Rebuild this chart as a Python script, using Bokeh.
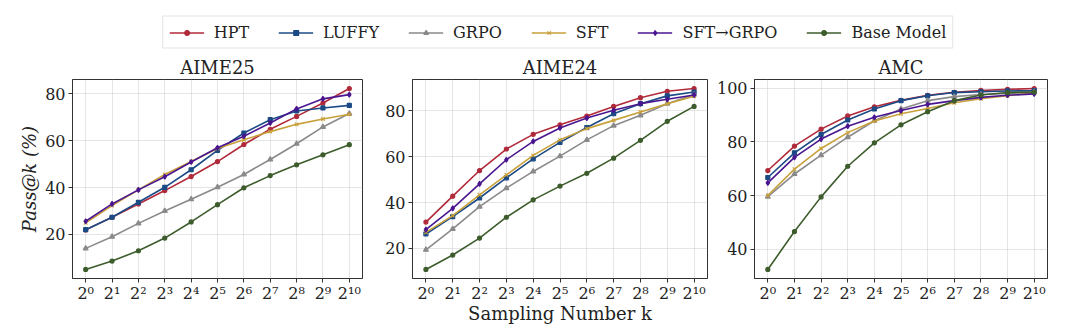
from bokeh.plotting import figure
from bokeh.layouts import column, row
from bokeh.models import Legend, LegendItem, FixedTicker, Range1d
from bokeh.embed import file_html
from bokeh.resources import INLINE

# ---------------- data ----------------
k_exp = list(range(11))
tick_labels = ["2⁰", "2¹", "2²", "2³", "2⁴", "2⁵", "2⁶", "2⁷", "2⁸", "2⁹", "2¹⁰"]
methods = ["HPT", "LUFFY", "GRPO", "SFT", "SFT→GRPO", "Base Model"]

aime25_hpt = [21.9, 27.3, 33.0, 38.7, 44.7, 51.1, 58.4, 64.9, 70.4, 76.1, 82.3]
aime25_luffy = [22.0, 27.3, 33.7, 40.1, 47.6, 55.9, 63.3, 69.0, 72.7, 74.0, 75.1]
aime25_grpo = [14.0, 19.0, 24.7, 30.0, 35.0, 40.1, 45.6, 52.0, 58.7, 65.9, 71.6]
aime25_sft = [24.9, 32.3, 39.0, 45.6, 51.1, 56.7, 60.4, 63.9, 67.0, 69.3, 71.3]
aime25_sftgrpo = [25.6, 33.0, 39.0, 44.6, 50.9, 57.0, 61.9, 67.6, 73.6, 77.9, 79.7]
aime25_base = [5.0, 8.6, 13.0, 18.4, 25.3, 32.7, 39.9, 45.1, 49.7, 54.0, 58.3]

aime24_hpt = [31.5, 42.8, 54.0, 63.4, 69.8, 74.0, 77.8, 82.0, 85.8, 88.6, 89.8]
aime24_luffy = [26.3, 33.9, 42.0, 50.8, 59.1, 66.3, 72.8, 78.8, 83.2, 86.6, 88.3]
aime24_grpo = [19.4, 28.5, 38.2, 46.3, 53.6, 60.3, 67.4, 73.6, 78.1, 83.2, 87.2]
aime24_sft = [27.0, 34.3, 43.4, 52.1, 60.6, 67.4, 72.3, 75.9, 79.6, 83.2, 86.4]
aime24_sftgrpo = [28.2, 37.5, 48.2, 58.7, 66.7, 72.6, 76.9, 80.3, 83.2, 85.1, 87.0]
aime24_base = [10.8, 17.1, 24.5, 33.6, 41.2, 47.2, 52.8, 59.4, 67.2, 75.5, 82.0]

amc_hpt = [69.3, 78.4, 84.7, 89.6, 93.0, 95.4, 97.3, 98.4, 99.1, 99.5, 99.8]
amc_luffy = [66.7, 75.9, 82.7, 88.1, 92.2, 95.3, 97.1, 98.3, 98.6, 98.9, 99.0]
amc_grpo = [59.6, 68.0, 75.0, 81.7, 87.8, 92.2, 95.3, 96.8, 97.6, 98.0, 98.5]
amc_sft = [60.0, 69.8, 77.5, 83.4, 87.7, 90.4, 92.4, 94.5, 96.0, 97.1, 98.3]
amc_sftgrpo = [64.7, 74.2, 81.0, 85.8, 89.1, 91.6, 93.9, 95.3, 96.5, 97.3, 97.8]
amc_base = [32.5, 46.6, 59.5, 70.9, 79.6, 86.3, 91.2, 95.3, 97.4, 98.3, 98.5]

panels = [
    ("AIME25", [aime25_hpt, aime25_luffy, aime25_grpo, aime25_sft, aime25_sftgrpo, aime25_base], [20, 40, 60, 80]),
    ("AIME24", [aime24_hpt, aime24_luffy, aime24_grpo, aime24_sft, aime24_sftgrpo, aime24_base], [20, 40, 60, 80]),
    ("AMC", [amc_hpt, amc_luffy, amc_grpo, amc_sft, amc_sftgrpo, amc_base], [40, 60, 80, 100]),
]

# ---------------- style ----------------
colors = ["#b02a3a", "#1b4a85", "#8a8a8a", "#c9a13a", "#4a168f", "#3d5c2c"]
markers = ["circle", "square", "triangle", "x", "diamond", "circle"]
msizes = [4, 4, 5, 5, 5, 4]
FONT = "DejaVu Serif"

fig_widths = [382, 331, 367]
borders_left = [72, 30, 38]
borders_right = [20, 6, 33]
ROW_H = 282


def draw_series(p, xs, ys, i):
    r1 = p.line(xs, ys, line_color=colors[i], line_width=1.6)
    r2 = p.scatter(xs, ys, marker=markers[i], size=msizes[i],
                   line_color=colors[i], fill_color=colors[i], line_width=1.2)
    return [r1, r2]


figs = []
for j, (title, series, yticks) in enumerate(panels):
    allv = [v for s in series for v in s]
    lo, hi = min(allv), max(allv)
    pad = (hi - lo) * 0.05
    p = figure(width=fig_widths[j], height=ROW_H, output_backend="svg",
               toolbar_location=None, title=title,
               x_range=Range1d(-0.5, 10.5), y_range=Range1d(lo - pad, hi + pad),
               min_border_left=borders_left[j], min_border_right=borders_right[j],
               min_border_top=29, min_border_bottom=54)
    p.title.align = "center"
    p.title.text_font = FONT
    p.title.text_font_size = "18px"
    p.title.text_font_style = "normal"
    p.title.text_color = "#222222"
    p.title.standoff = 4
    p.title.offset = 0
    for i, ys in enumerate(series):
        draw_series(p, k_exp, ys, i)
    p.xaxis.ticker = FixedTicker(ticks=k_exp)
    p.xaxis.major_label_overrides = {k: lab for k, lab in zip(k_exp, tick_labels)}
    p.yaxis.ticker = FixedTicker(ticks=yticks)
    for ax in p.xaxis + p.yaxis:
        ax.major_label_text_font = FONT
        ax.major_label_text_font_size = "16px"
        ax.major_label_text_color = "#222222"
        ax.axis_line_color = "#333333"
        ax.major_tick_line_color = "#333333"
        ax.major_tick_out = 4
        ax.major_tick_in = 0
        ax.minor_tick_line_color = None
        ax.axis_label_text_font = FONT
        ax.axis_label_text_color = "#222222"
        ax.major_label_standoff = 3
    p.xaxis.major_label_standoff = 1
    p.outline_line_color = "#333333"
    p.outline_line_alpha = 1
    p.grid.grid_line_color = "#cccccc"
    p.grid.grid_line_alpha = 0.5
    p.background_fill_color = "white"
    p.border_fill_color = "white"
    if j == 0:
        p.yaxis.axis_label = "Pass@k (%)"
        p.yaxis.axis_label_text_font_style = "italic"
        p.yaxis.axis_label_text_font_size = "18px"
        p.yaxis.axis_label_standoff = 2
    if j == 1:
        p.xaxis.axis_label = "Sampling Number k"
        p.xaxis.axis_label_text_font_style = "normal"
        p.xaxis.axis_label_text_font_size = "18px"
        p.xaxis.axis_label_standoff = -3
    figs.append(p)

# ---------------- legend figure ----------------
lg = figure(width=1080, height=50, output_backend="svg", toolbar_location=None,
            x_range=Range1d(0, 1), y_range=Range1d(0, 1),
            min_border_left=35, min_border_right=0, min_border_top=14, min_border_bottom=0)
lg.axis.visible = False
lg.grid.visible = False
lg.outline_line_color = None
items = []
for i, name in enumerate(methods):
    rs = draw_series(lg, [-10, -9], [-10, -9], i)
    items.append(LegendItem(label=name, renderers=rs))
legend = Legend(items=items, orientation="horizontal", location="center",
                label_text_font=FONT, label_text_font_size="16px",
                label_text_color="#222222",
                border_line_color="#cccccc", border_line_width=1,
                glyph_width=35, glyph_height=12, label_standoff=10, spacing=29,
                padding=6, margin=0)
lg.add_layout(legend, "center")

layout = column(lg, row(*figs, spacing=0), spacing=0)

with open("out.html", "w") as f:
    f.write(file_html(layout, INLINE))
